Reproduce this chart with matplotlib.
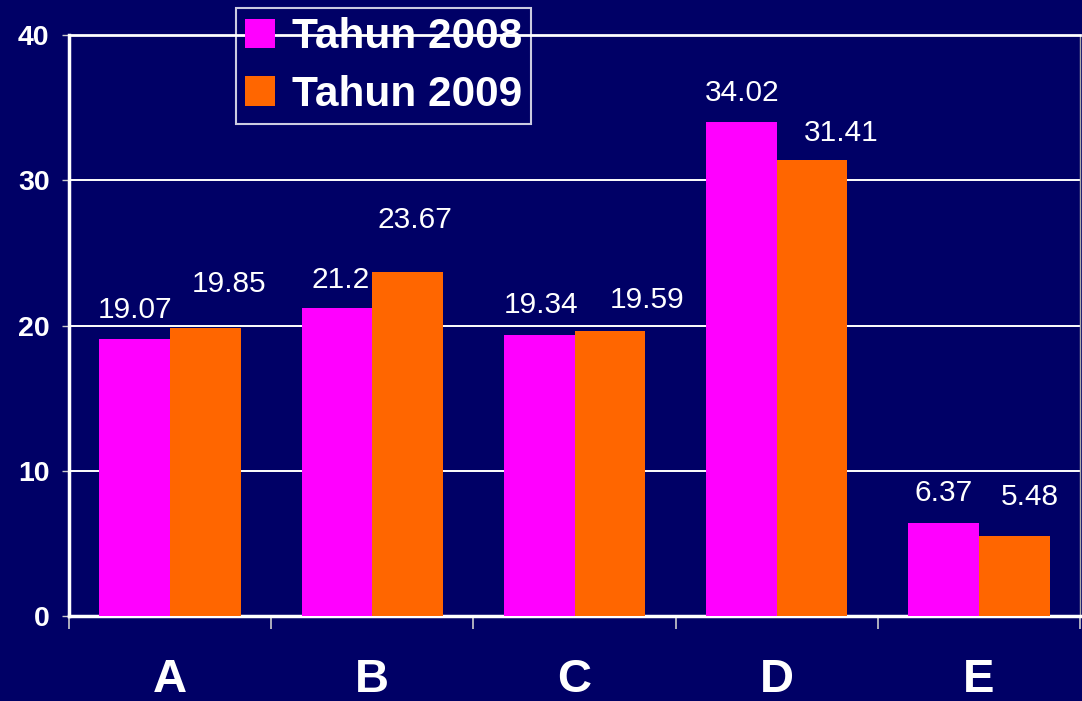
import numpy as np
import matplotlib.pyplot as plt

# data
categories = ['A', 'B', 'C', 'D', 'E']
tahun_2008 = [19.07, 21.2, 19.34, 34.02, 6.37]
tahun_2009 = [19.85, 23.67, 19.59, 31.41, 5.48]

# label offsets (pixels) as placed in the original
off_2008 = [(0, 29), (4, 28), (2, 30), (1, 29), (0, 30)]
off_2009 = [(24, 44), (7, 52), (37, 31), (29, 27), (16, 39)]

bg = '#000066'
magenta = '#FF00FF'
orange = '#FF6600'

plt.rcParams['font.family'] = ['Liberation Sans', 'DejaVu Sans']

fig = plt.figure(figsize=(10.82, 7.01), dpi=100, facecolor=bg)
ax = fig.add_axes([69 / 1082, 85 / 701, 1011 / 1082, 581 / 701], facecolor=bg)

x = np.arange(len(categories))
w = 0.35
b1 = ax.bar(x - w / 2, tahun_2008, w, color=magenta, label='Tahun 2008', zorder=3)
b2 = ax.bar(x + w / 2, tahun_2009, w, color=orange, label='Tahun 2009', zorder=3)

for rect, v, (dx, dy) in zip(b1, tahun_2008, off_2008):
    ax.annotate(f'{v:g}', (rect.get_x() + rect.get_width() / 2, v), xytext=(dx, dy),
                textcoords='offset pixels', ha='center', va='center',
                color='white', fontsize=21.5)
for rect, v, (dx, dy) in zip(b2, tahun_2009, off_2009):
    ax.annotate(f'{v:g}', (rect.get_x() + rect.get_width() / 2, v), xytext=(dx, dy),
                textcoords='offset pixels', ha='center', va='center',
                color='white', fontsize=21.5)

ax.set_xlim(-0.5, len(categories) - 0.5)
ax.set_ylim(0, 40)
ax.set_yticks([0, 10, 20, 30, 40])
ax.yaxis.grid(True, color='white', linewidth=1.4, zorder=0)
ax.set_axisbelow(True)

ax.set_xticks(x)
ax.set_xticklabels(categories, fontsize=34, fontweight='bold', color='white')
ax.set_xticks(np.arange(-0.5, len(categories)), minor=True)
ax.tick_params(axis='x', which='major', length=0, pad=30)
ax.tick_params(axis='x', which='minor', length=9, width=1.2, color='#cccccc', direction='out')
ax.tick_params(axis='y', length=5, width=1, color='#cccccc', labelsize=20.5, labelcolor='white', pad=9)
for lab in ax.get_yticklabels():
    lab.set_fontweight('bold')

ax.spines['left'].set_color('white')
ax.spines['left'].set_linewidth(2.5)
ax.spines['bottom'].set_color('white')
ax.spines['bottom'].set_linewidth(2.5)
ax.spines['top'].set_color('white')
ax.spines['top'].set_linewidth(2)
ax.spines['right'].set_color('#aaaaaa')
ax.spines['right'].set_linewidth(1)

leg = ax.legend(loc='upper left', bbox_to_anchor=(167 / 1011, 1 + 27 / 581), frameon=True,
                fancybox=False, prop={'size': 30.5, 'weight': 'bold'}, labelcolor='white',
                handlelength=0.7, handleheight=0.7, handletextpad=0.4, borderpad=0.22,
                labelspacing=0.42, borderaxespad=0)
leg.get_frame().set_facecolor('none')
leg.get_frame().set_edgecolor('white')
leg.get_frame().set_linewidth(1.5)

plt.savefig('out.png', dpi=100, facecolor=bg)
